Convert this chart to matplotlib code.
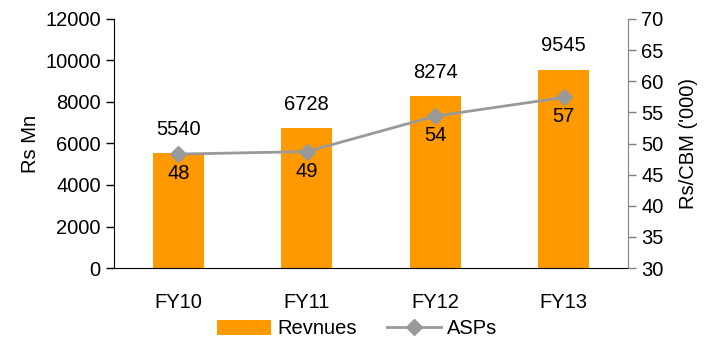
import matplotlib
matplotlib.use('Agg')
import matplotlib.pyplot as plt
import numpy as np

plt.rcParams['font.family'] = ['Liberation Sans', 'DejaVu Sans']

# revenue and ASP by fiscal year
years = ['FY10', 'FY11', 'FY12', 'FY13']
revenues = [5540, 6728, 8274, 9545]
asps = [48.3, 48.7, 54.4, 57.4]

fig = plt.figure(figsize=(7.07, 3.42), dpi=100)
ax = fig.add_axes([114/707, 1-268/342, (628-114)/707, (268-19)/342])
ax2 = ax.twinx()

x = np.arange(len(years))
bars = ax.bar(x, revenues, width=0.4, color='#FF9900', label='Revnues', zorder=2)
line, = ax2.plot(x, asps, color='#999999', lw=2, marker='D', ms=8,
                 markeredgecolor='#999999', label='ASPs', zorder=3)

ax.set_xlim(-0.5, len(years) - 0.5)
ax.set_ylim(0, 12000)
ax.set_yticks(range(0, 12001, 2000))
ax2.set_ylim(30, 70)
ax2.set_yticks(range(30, 71, 5))
ax.set_xticks(x)
ax.set_xticklabels(years)

fs = 14.5
for v, xi in zip(revenues, x):
    ax.text(xi, v + 700, str(v), ha='center', va='bottom', fontsize=fs)
for v, xi in zip(asps, x):
    ax2.text(xi, v - 1.6, '%.0f' % v, ha='center', va='top', fontsize=fs)

ax.set_ylabel('Rs Mn', fontsize=fs, labelpad=4)
ax2.set_ylabel("Rs/CBM ('000)", fontsize=fs, labelpad=11)

for a in (ax, ax2):
    a.spines['top'].set_visible(False)
    a.tick_params(labelsize=fs, length=6, width=1)
ax.spines['right'].set_visible(False)
ax2.spines['left'].set_visible(False)
ax2.spines['bottom'].set_visible(False)
ax2.spines['right'].set_color('#808080')
ax2.tick_params(axis='y', color='#808080')
ax.tick_params(axis='x', length=0, pad=18)

fig.legend(handles=[bars, line], loc='center', bbox_to_anchor=(357/707, 1-329/342),
           ncol=2, frameon=False, fontsize=fs, handlelength=2.7, columnspacing=1.5,
           handletextpad=0.3)

fig.savefig('out.png', dpi=100)
